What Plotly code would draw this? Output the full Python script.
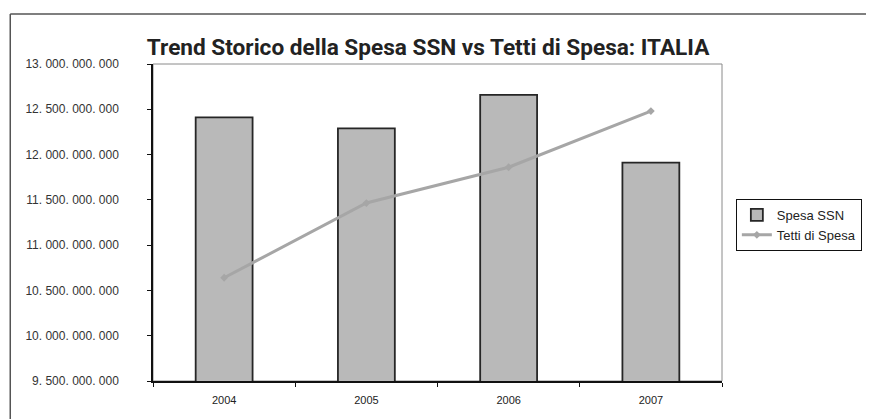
import plotly.graph_objects as go

years = ["2004", "2005", "2006", "2007"]
spesa_ssn = [12.41e9, 12.29e9, 12.66e9, 11.91e9]
tetti_spesa = [10.64e9, 11.465e9, 11.86e9, 12.48e9]
y_tickvals = [9.5e9, 10e9, 10.5e9, 11e9, 11.5e9, 12e9, 12.5e9, 13e9]
y_ticktext = ["9. 500. 000. 000", "10. 000. 000. 000", "10. 500. 000. 000", "11. 000. 000. 000",
              "11. 500. 000. 000", "12. 000. 000. 000", "12. 500. 000. 000", "13. 000. 000. 000"]

# the page body adds an 8px offset; figure coordinates are screen - 8
OFF = 8
W, H = 874 - OFF, 419 - OFF
L, R, T, B = 153 - OFF, 146, 64 - OFF, 38
pw, ph = W - L - R, H - T - B


def px(xs):
    return (xs - OFF - L) / pw


def py(ys):
    return (H - B - (ys - OFF)) / ph


fig = go.Figure()
fig.add_trace(go.Bar(
    x=years, y=spesa_ssn, name="Spesa SSN", width=0.4,
    marker=dict(color="#b9b9b9", line=dict(color="#262626", width=1.8)),
))
fig.add_trace(go.Scatter(
    x=years, y=tetti_spesa, name="Tetti di Spesa", mode="lines+markers",
    line=dict(color="#a6a6a6", width=3),
    marker=dict(symbol="diamond", size=6, color="#a6a6a6"),
))

shapes = [
    # plot-area grey border
    dict(type="rect", xref="paper", yref="paper", x0=0, x1=1, y0=0, y1=1,
         line=dict(color="#8a8a8a", width=1), layer="below"),
    # outer frame (top and left)
    dict(type="line", xref="paper", yref="paper", x0=px(8.75), x1=px(900), y0=py(14), y1=py(14),
         line=dict(color="#555555", width=1.5)),
    dict(type="line", xref="paper", yref="paper", x0=px(8.75), x1=px(8.75), y0=py(14), y1=py(440),
         line=dict(color="#555555", width=1.5)),
]

fig.update_layout(
    width=W, height=H,
    margin=dict(l=L, r=R, t=T, b=B),
    paper_bgcolor="white", plot_bgcolor="white",
    showlegend=True,
    title=dict(
        text="<b>Trend Storico della Spesa SSN vs Tetti di Spesa: ITALIA</b>",
        x=px(431), xref="paper", xanchor="center",
        y=1 - (47 - OFF) / H, yref="container", yanchor="middle",
        font=dict(family="Roboto, sans-serif", size=22.6, color="#222222"),
    ),
    legend=dict(
        x=px(742), y=py(199), xanchor="left", yanchor="top",
        bordercolor="#111111", borderwidth=1, bgcolor="white",
        font=dict(family="Liberation Sans, Arial, sans-serif", size=13, color="#222222"),
        tracegroupgap=0, itemwidth=30,
    ),
    shapes=shapes,
)
fig.update_xaxes(
    type="category", showgrid=False, showline=True, linecolor="#111111", linewidth=1.5,
    ticks="outside", ticklen=4, tickcolor="#111111", tickson="boundaries",
    ticklabelstandoff=8,
    tickfont=dict(family="Liberation Sans, Arial, sans-serif", size=11, color="#222222"),
)
fig.update_yaxes(
    range=[9.5e9, 13e9], tickvals=y_tickvals, ticktext=y_ticktext,
    showgrid=False, showline=True, linecolor="#111111", linewidth=1.5,
    ticks="outside", ticklen=4, tickcolor="#111111", ticklabelstandoff=26,
    tickfont=dict(family="Liberation Sans, Arial, sans-serif", size=12, color="#333333"),
    zeroline=False,
)

fig.write_html("out.html")
